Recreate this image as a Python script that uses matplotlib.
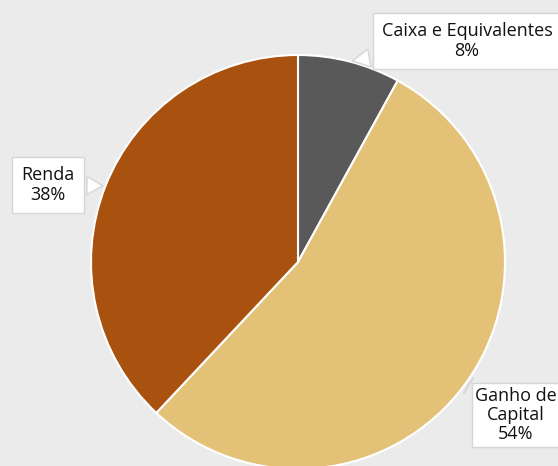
import matplotlib.pyplot as plt
import numpy as np

labels = ["Caixa e Equivalentes", "Ganho de\nCapital", "Renda"]
shares = [8, 54, 38]
colors = ["#595959", "#e3c277", "#a9520f"]

# label box centres (pixels, y measured from the top) and box padding
label_pos = [(467, 41), (516, 415), (48, 185)]
label_pad = [0.5, 0.2, 0.5]

W, H = 558, 466
cx, cy, r = 298, 262, 207

plt.rcParams["font.family"] = ["Open Sans", "DejaVu Sans"]

fig = plt.figure(figsize=(W / 100, H / 100), dpi=100)
fig.patch.set_facecolor("#ebebeb")
ax = fig.add_axes([0, 0, 1, 1])
ax.set_facecolor("#ebebeb")

wedges, _ = ax.pie(
    shares,
    colors=colors,
    startangle=90,
    counterclock=False,
    center=(cx, H - cy),
    radius=r,
    wedgeprops=dict(edgecolor="white", linewidth=1.5),
)

# pie() resets the limits, so fix the pixel frame afterwards
ax.set_xlim(0, W)
ax.set_ylim(0, H)
ax.set_aspect("equal")
ax.axis("off")

for w, lab, val, (tx, ty), pad in zip(wedges, labels, shares, label_pos, label_pad):
    mid = np.deg2rad((w.theta1 + w.theta2) / 2)
    px = cx + r * np.cos(mid)
    py = H - cy + r * np.sin(mid)
    ax.annotate(
        f"{lab}\n{val}%",
        xy=(px, py),
        xytext=(tx, H - ty),
        ha="center",
        va="center",
        fontsize=13,
        color="#111111",
        linespacing=1.1,
        bbox=dict(boxstyle=f"square,pad={pad}", fc="white", ec="#d6d6d6", lw=1),
        arrowprops=dict(
            arrowstyle="wedge,tail_width=1.0,shrink_factor=0.5",
            fc="white",
            ec="#d6d6d6",
            lw=1,
        ),
        zorder=5,
    )

plt.savefig("out.png", dpi=100, facecolor=fig.get_facecolor())
